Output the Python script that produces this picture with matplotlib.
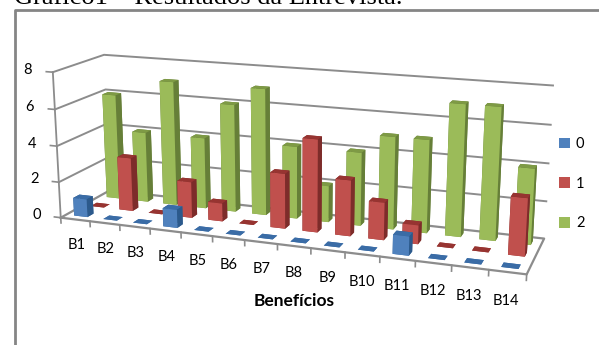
#!/usr/bin/env python3
"""3-D clustered column chart of interview results per benefit (B1-B14)."""

import matplotlib

matplotlib.use("Agg")
import matplotlib.pyplot as plt
from matplotlib.lines import Line2D
from matplotlib.patches import Patch
from mpl_toolkits.mplot3d import proj3d

BENEFITS = ["B1", "B2", "B3", "B4", "B5", "B6", "B7",
            "B8", "B9", "B10", "B11", "B12", "B13", "B14"]
SCORE_0 = [1, 0, 0, 1, 0, 0, 0, 0, 0, 0, 1, 0, 0, 0]
SCORE_1 = [0, 3, 0, 2, 1, 0, 3, 5, 3, 2, 1, 0, 0, 3]
SCORE_2 = [6, 4, 7, 4, 6, 7, 4, 2, 4, 5, 5, 7, 7, 4]
Z_TICKS = [0, 2, 4, 6, 8]

# face colours: front, side, top
COLOURS = {
    "0": ("#4f81bd", "#2c5a8c", "#3a6ca6"),
    "1": ("#c0504d", "#7d2c2a", "#973431"),
    "2": ("#9bbb59", "#667f38", "#7e9a45"),
}
GRAY = "#8c8c8c"
W, H = 599, 345
BAR_W = 0.46
BAR_D = 0.36


def face_colours(front, side, top, n):
    # bar3d face order: bottom, top, -y, +y, -x, +x
    return [top, top, front, side, side, side] * n


def label_3d(ax, x, y, z, text):
    # project by hand so the label stays an ordinary 2-D annotation
    x2, y2, _ = proj3d.proj_transform(x, y, z, ax.get_proj())
    ax.annotate(text, (x2, y2), xycoords="data", fontsize=10.5, family="Lato",
                ha="center", va="center", zorder=5, annotation_clip=False)


fig = plt.figure(figsize=(W / 100, H / 100), dpi=100, facecolor="white")

ax = fig.add_axes([-0.0708, -0.4286, 1.1, 1.1 * W / H], projection="3d",
                  computed_zorder=False)
ax.set_proj_type("persp", focal_length=0.33)
ax.view_init(elev=15, azim=-70)
ax.set_box_aspect((505, 110, 161), zoom=0.765)
ax.set_xlim(0, 14, view_margin=0)
ax.set_ylim(0, 3, view_margin=0)
ax.set_zlim(0, 8, view_margin=0)
ax.set_axis_off()
ax.patch.set_alpha(0)

# back wall and side wall gridlines
for z in Z_TICKS[1:]:
    ax.plot([0, 0, 14], [0, 3, 3], [z, z, z], color=GRAY, lw=1.4, zorder=1)
# floor outline and value axis
ax.plot([0, 14, 14, 0, 0], [0, 0, 3, 3, 0], [0, 0, 0, 0, 0],
        color=GRAY, lw=1.6, zorder=1)
ax.plot([0, 0], [0, 0], [0, 8], color=GRAY, lw=1.3, zorder=1)

# tick marks
for z in Z_TICKS:
    ax.plot([0, -0.22], [0, 0], [z, z], color=GRAY, lw=1.2, zorder=1)
    label_3d(ax, -0.85, 0, z, str(z))
for i in range(15):
    ax.plot([i, i], [0, 0], [0, -0.3], color=GRAY, lw=1.2, zorder=1)

# deepest series first so nearer columns paint over it
for row, (name, vals) in reversed(list(enumerate(
        [("0", SCORE_0), ("1", SCORE_1), ("2", SCORE_2)]))):
    n = len(vals)
    xs = [i + 0.5 - BAR_W / 2 for i in range(n)]
    ys = [row + 0.5 - BAR_D / 2] * n
    ax.bar3d(xs, ys, [0] * n, BAR_W, BAR_D, vals,
             color=face_colours(*COLOURS[name], n), shade=False,
             linewidth=0, zorder=2 + (2 - row))

for i, lab in enumerate(BENEFITS):
    label_3d(ax, i + 0.5, 0, -1.45, lab)

# Text and frame around the plot
fig.text(294 / W, 1 - 301 / H, "Benefícios", fontsize=12.5, family="Lato",
         fontweight="bold", ha="center", va="center")
fig.text(14 / W, 1 - 4 / H, "Gráfico1 – Resultados da Entrevista.",
         fontsize=19, family="Liberation Serif", ha="left", va="baseline")
fig.add_artist(Line2D([14.5 / W, 14.5 / W, 1], [0, 1 - 10 / H, 1 - 10 / H],
                      color="#858585", lw=2))

handles = [Patch(facecolor=COLOURS[k][0], edgecolor="none") for k in COLOURS]
fig.legend(handles, list(COLOURS), loc="upper left",
           bbox_to_anchor=(549 / W, 1 - 127 / H), frameon=False,
           handlelength=0.75, handleheight=0.75, handletextpad=0.4,
           labelspacing=1.75, borderpad=0.2,
           prop={"family": "Lato", "size": 10.5})

fig.savefig("out.png", dpi=100)
